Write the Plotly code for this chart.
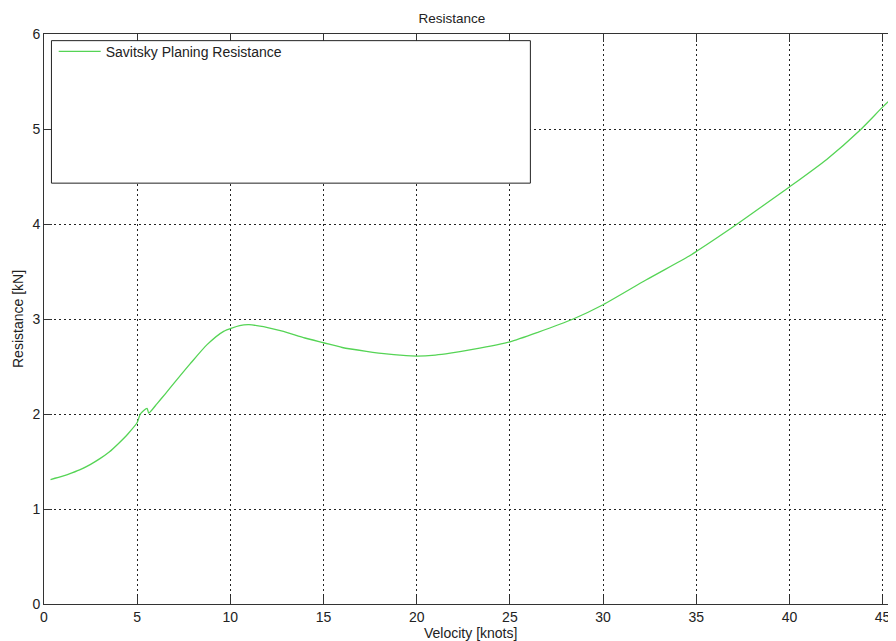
import plotly.graph_objects as go

velocity = [0.35, 1.0, 1.5, 2.0, 2.5, 3.0, 3.5, 4.0, 4.5, 5.0, 5.17, 5.53, 5.62, 6.07, 6.5,
            7.0, 7.85, 8.75, 9.64, 10.5, 11.0, 12.0, 12.85, 14.0, 15.0, 16.0, 17.3, 18.5,
            19.1, 20.0, 21.0, 21.8, 23.0, 25.0, 26.5, 28.4, 30.0, 32.3, 34.6, 35.0, 37.2,
            40.0, 42.0, 43.8, 45.0, 45.7]
resistance = [1.31, 1.345, 1.38, 1.42, 1.47, 1.53, 1.60, 1.69, 1.79, 1.91, 2.00, 2.06, 2.01, 2.11, 2.21,
              2.33, 2.53, 2.73, 2.87, 2.93, 2.94, 2.91, 2.87, 2.80, 2.75, 2.70, 2.66, 2.63,
              2.62, 2.61, 2.62, 2.64, 2.68, 2.76, 2.86, 3.00, 3.15, 3.41, 3.66, 3.71, 4.00,
              4.39, 4.68, 4.99, 5.23, 5.36]
x_ticks = [0, 5, 10, 15, 20, 25, 30, 35, 40, 45]
y_ticks = [0, 1, 2, 3, 4, 5, 6]

FONT = "Liberation Sans, Arial, sans-serif"
GRID_DASH = "1.5px,3.5px"
W, H = 888, 633  # page body has an 8px margin

fig = go.Figure()
fig.add_trace(go.Scatter(
    x=velocity, y=resistance, mode="lines",
    name="Savitsky Planing Resistance",
    line=dict(color="#55d455", width=1.3, shape="spline", smoothing=0.6),
))

fig.add_shape(type="rect", xref="x", yref="y", x0=0.4, x1=26.1, y0=4.43, y1=5.93,
              line=dict(color="#222", width=1), fillcolor="white", layer="above")

fig.add_annotation(text="Velocity [knots]", xref="paper", yref="paper", x=0.5, y=0,
                   xanchor="center", yanchor="middle", yshift=-29, showarrow=False,
                   font=dict(size=14, color="#222"))
fig.add_annotation(text="Resistance [kN]", xref="paper", yref="paper", x=0, y=0.5,
                   xanchor="center", yanchor="middle", xshift=-26, textangle=-90,
                   showarrow=False, font=dict(size=14, color="#222"))

fig.update_layout(
    width=W, height=H,
    margin=dict(l=35.5, r=0, t=25.5, b=36.7, autoexpand=False),
    paper_bgcolor="white", plot_bgcolor="white",
    font=dict(family=FONT, size=14, color="#222"),
    title=dict(text="Resistance", x=0.5, xanchor="center", y=1 - 10 / H, yanchor="middle",
               font=dict(size=13.5, color="#222")),
    showlegend=True,
    legend=dict(x=0.0114, y=0.997, xanchor="left", yanchor="top", bgcolor="rgba(0,0,0,0)",
                borderwidth=0, font=dict(size=14, color="#222"), itemwidth=42),
    xaxis=dict(range=[0, 45.72], tickvals=x_ticks, ticks="inside", ticklen=8, tickcolor="#333",
               showline=True, linecolor="#333", linewidth=1, mirror="ticks",
               showgrid=True, gridcolor="#222", griddash=GRID_DASH, gridwidth=1,
               zeroline=False, tickfont=dict(size=14), automargin=False),
    yaxis=dict(range=[0, 6], tickvals=y_ticks, ticks="inside", ticklen=8, tickcolor="#333",
               showline=True, linecolor="#333", linewidth=1, mirror=False,
               showgrid=True, gridcolor="#222", griddash=GRID_DASH, gridwidth=1,
               zeroline=False, tickfont=dict(size=14), automargin=False),
)

fig.write_html("out.html")
